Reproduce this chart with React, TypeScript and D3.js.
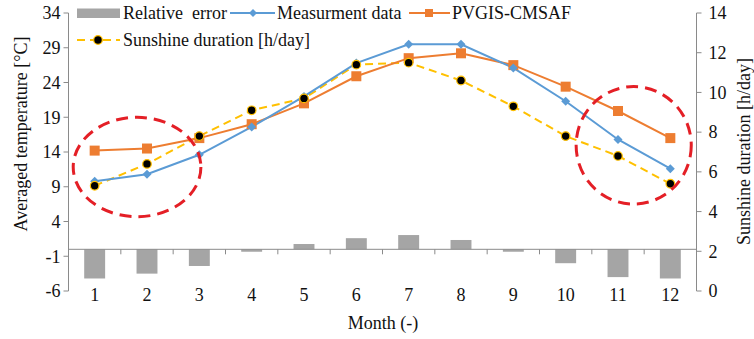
import React from "react";
import * as d3 from "d3";

const months = ["1", "2", "3", "4", "5", "6", "7", "8", "9", "10", "11", "12"];
const relativeError = [-4.2, -3.5, -2.4, -0.35, 0.76, 1.6, 2.05, 1.34, -0.35, -2.0, -4.0, -4.2];
const measurement = [9.8, 10.8, 13.6, 17.6, 22.0, 26.8, 29.5, 29.5, 26.1, 21.3, 15.8, 11.6];
const pvgis = [14.2, 14.5, 16.0, 18.0, 21.0, 24.9, 27.5, 28.2, 26.5, 23.4, 19.9, 16.0];
const sunshine = [5.3, 6.4, 7.8, 9.1, 9.7, 11.4, 11.5, 10.6, 9.3, 7.8, 6.8, 5.4];
const leftTicks = [-6, -1, 4, 9, 14, 19, 24, 29, 34];
const rightTicks = [0, 2, 4, 6, 8, 10, 12, 14];
// highlighted regions: [month center, temperature center, month radius, temperature radius]
const highlights = [
  [1.81, 11.84, 1.22, 7.15],
  [11.3, 14.96, 1.1, 8.45],
];

const W = 754;
const H = 339;
const L = 68.5;
const R = 696.5;
const T = 13;
const B = 291;
const FONT = "'Liberation Serif', 'Times New Roman', serif";
const AXIS = "#8a8a8a";
const BLUE = "#5b9bd5";
const ORANGE = "#ed7d31";
const GOLD = "#ffc000";
const GRAY = "#a5a5a5";
const RED = "#e41f26";

export default function App() {
  const x = d3.scaleBand<string>().domain(months).range([L, R]).paddingInner(0.6).paddingOuter(0.3);
  const step = (R - L) / months.length;
  const xc = (i: number) => (x(months[i]) as number) + x.bandwidth() / 2;
  const xm = d3.scaleLinear().domain([0.5, 12.5]).range([L, R]);
  const yL = d3.scaleLinear().domain([-6, 34]).range([B, T]);
  const yR = d3.scaleLinear().domain([0, 14]).range([B, T]);
  const y0 = yL(0);

  const lineL = d3.line<number>().x((_, i) => xc(i)).y((d) => yL(d));
  const lineR = d3.line<number>().x((_, i) => xc(i)).y((d) => yR(d));

  const diamond = (cx: number, cy: number, s: number) =>
    `M${cx},${cy - s}L${cx + s},${cy}L${cx},${cy + s}L${cx - s},${cy}Z`;

  const boundaries = d3.range(months.length + 1).map((i) => L + i * step);

  return (
    <svg width={W} height={H} style={{ position: "absolute", left: 0, top: 0, background: "#fff" }} fontFamily={FONT}>
      {/* axes */}
      <line x1={L} x2={L} y1={T} y2={B} stroke={AXIS} strokeWidth={1} />
      {leftTicks.map((t) => (
        <g key={"l" + t}>
          <line x1={L - 5} x2={L} y1={yL(t)} y2={yL(t)} stroke={AXIS} />
          <text x={L - 8} y={yL(t)} dy="0.35em" textAnchor="end" fontSize={18} fill="#111">{t}</text>
        </g>
      ))}
      <line x1={R} x2={R} y1={T} y2={B} stroke={AXIS} strokeWidth={1} />
      {rightTicks.map((t) => (
        <g key={"r" + t}>
          <line x1={R} x2={R + 5} y1={yR(t)} y2={yR(t)} stroke={AXIS} />
          <text x={R + 12} y={yR(t)} dy="0.35em" textAnchor="start" fontSize={18} fill="#111">{t}</text>
        </g>
      ))}

      {/* bars */}
      {relativeError.map((v, i) => (
        <rect key={"b" + i} x={x(months[i])} width={x.bandwidth()} y={Math.min(yL(v), y0)} height={Math.abs(yL(v) - y0)} fill={GRAY} />
      ))}

      {/* baseline */}
      <line x1={L} x2={R} y1={y0} y2={y0} stroke={AXIS} />
      {boundaries.map((bx, i) => (
        <line key={"xt" + i} x1={bx} x2={bx} y1={y0} y2={y0 + 5} stroke={AXIS} />
      ))}
      {months.map((m, i) => (
        <text key={"xl" + i} x={xc(i)} y={295} dy="0.35em" textAnchor="middle" fontSize={18} fill="#111">{m}</text>
      ))}

      {/* lines */}
      <path d={lineR(sunshine) || ""} fill="none" stroke={GOLD} strokeWidth={2} strokeDasharray="8,5" />
      <path d={lineL(pvgis) || ""} fill="none" stroke={ORANGE} strokeWidth={2} />
      <path d={lineL(measurement) || ""} fill="none" stroke={BLUE} strokeWidth={2} />
      {pvgis.map((v, i) => (
        <rect key={"p" + i} x={xc(i) - 5} y={yL(v) - 5} width={10} height={10} fill={ORANGE} />
      ))}
      {measurement.map((v, i) => (
        <path key={"m" + i} d={diamond(xc(i), yL(v), 4.5)} fill={BLUE} />
      ))}
      {sunshine.map((v, i) => (
        <circle key={"s" + i} cx={xc(i)} cy={yR(v)} r={4.3} fill="#000" stroke={GOLD} strokeWidth={1.2} />
      ))}

      {/* highlight ellipses */}
      {highlights.map((h, i) => (
        <ellipse
          key={"e" + i}
          cx={xm(h[0])}
          cy={yL(h[1])}
          rx={xm(h[0] + h[2]) - xm(h[0])}
          ry={yL(h[1] - h[3]) - yL(h[1])}
          fill="none"
          stroke={RED}
          strokeWidth={3}
          strokeDasharray="12,7"
        />
      ))}

      {/* axis titles */}
      <text transform={`translate(21,${(T + 255) / 2}) rotate(-90)`} textAnchor="middle" dy="0.35em" fontSize={18} fill="#111">
        Averaged temperature [°C]
      </text>
      <text transform={`translate(744,${(T + 290) / 2}) rotate(-90)`} textAnchor="middle" dy="0.35em" fontSize={18} fill="#111">
        Sunshine duration [h/day]
      </text>
      <text x={383} y={323} dy="0.35em" textAnchor="middle" fontSize={18} fill="#111">Month (-)</text>

      {/* legend */}
      <g fontSize={18} fill="#111">
        <rect x={77} y={8.5} width={43} height={9.5} fill={GRAY} />
        <text x={123} y={13} dy="0.35em" style={{ whiteSpace: "pre" }}>Relative  error</text>
        <line x1={230} x2={275} y1={13} y2={13} stroke={BLUE} strokeWidth={2} />
        <path d={diamond(253, 13, 4)} fill={BLUE} />
        <text x={277} y={13} dy="0.35em">Measurment data</text>
        <line x1={409} x2={450} y1={13} y2={13} stroke={ORANGE} strokeWidth={2} />
        <rect x={425} y={9} width={8} height={8} fill={ORANGE} />
        <text x={452} y={13} dy="0.35em">PVGIS-CMSAF</text>
        <line x1={77} x2={120} y1={40} y2={40} stroke={GOLD} strokeWidth={2} strokeDasharray="8,5" />
        <circle cx={98} cy={40} r={4.3} fill="#000" stroke={GOLD} strokeWidth={1.2} />
        <text x={123} y={40} dy="0.35em">Sunshine duration [h/day]</text>
      </g>
    </svg>
  );
}
